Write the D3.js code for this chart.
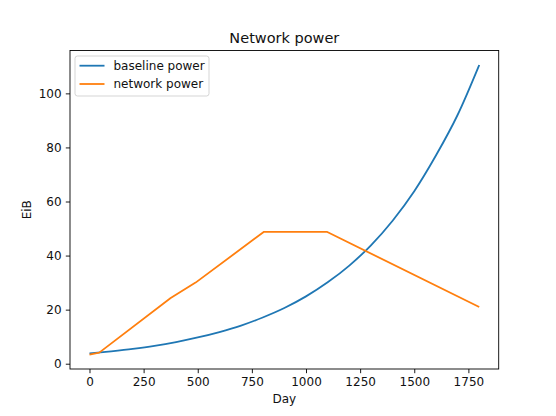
<!DOCTYPE html>
<html>
<head>
<meta charset="utf-8">
<script src="https://cdn.jsdelivr.net/npm/d3@7"></script>
<style>
body { margin: 0; background: #fff; }
text { font-family: "DejaVu Sans", sans-serif; }
</style>
</head>
<body>
<div id="viz"></div>
<script>
// baseline power, read every 100 days
var baseDays = [0, 100, 200, 300, 400, 500, 600, 700, 800, 900, 1000, 1100, 1200, 1300, 1400, 1500, 1600, 1700, 1800];
var baseValues = [3.8, 4.6, 5.5, 6.6, 8.0, 9.7, 11.7, 14.1, 17.1, 20.6, 24.9, 30.1, 36.3, 43.8, 52.9, 63.8, 77.0, 92.0, 110.5];

// network power, the corners of the line
var netDays = [0, 45, 375, 490, 806, 1096, 1800];
var netValues = [3.4, 4.1, 24.3, 30.0, 48.8, 48.8, 21.0];

var xTicks = [0, 250, 500, 750, 1000, 1250, 1500, 1750];
var yTicks = [0, 20, 40, 60, 80, 100];
var seriesNames = ['baseline power', 'network power'];
var colors = ['#1f77b4', '#ff7f0e'];

var width = 556, height = 416;
// plot area (window.top is reserved, so pl/pr/pt/pb)
var pl = 70, pr = 498.7, pt = 50.5, pb = 369;

var svg = d3
.select('#viz')
.append('svg')
.attr('width', width)
.attr('height', height)
;

var base = baseDays.map(function(d, i){ return {day: d, value: baseValues[i]}; });
var net = netDays.map(function(d, i){ return {day: d, value: netValues[i]}; });

// matplotlib style 5% margins
var xmin = 0, xmax = 1800;
var ymin = d3.min(baseValues.concat(netValues)), ymax = d3.max(baseValues.concat(netValues));
var xpad = (xmax - xmin) * 0.05, ypad = (ymax - ymin) * 0.05;

var x = d3.scaleLinear().domain([xmin - xpad, xmax + xpad]).range([pl, pr]);
var y = d3.scaleLinear().domain([ymin - ypad, ymax + ypad]).range([pb, pt]);

var line = d3.line()
.x(function(d){ return x(d.day); })
.y(function(d){ return y(d.value); })
;

svg
.append('path')
.datum(base)
.attr('fill', 'none')
.attr('stroke', colors[0])
.attr('stroke-width', 1.8)
.attr('d', line.curve(d3.curveMonotoneX))
;

svg
.append('path')
.datum(net)
.attr('fill', 'none')
.attr('stroke', colors[1])
.attr('stroke-width', 1.8)
.attr('stroke-linejoin', 'round')
.attr('d', line.curve(d3.curveLinear))
;

// axes
var xAxis = svg
.append('g')
.attr('transform', 'translate(0,' + pb + ')')
.call(d3.axisBottom(x).tickValues(xTicks).tickFormat(d3.format('d')).tickSize(4.2).tickPadding(4.2).tickSizeOuter(0))
;

var yAxis = svg
.append('g')
.attr('transform', 'translate(' + pl + ',0)')
.call(d3.axisLeft(y).tickValues(yTicks).tickFormat(d3.format('d')).tickSize(4.2).tickPadding(4.2).tickSizeOuter(0))
;

[xAxis, yAxis].forEach(function(a){
  a.select('.domain').remove();
  a.selectAll('text').attr('font-size', '12px').attr('font-family', '"DejaVu Sans", sans-serif').attr('fill', '#111');
  a.selectAll('line').attr('stroke', '#000').attr('stroke-width', 0.9);
});

// frame
svg
.append('rect')
.attr('x', pl)
.attr('y', pt)
.attr('width', pr - pl)
.attr('height', pb - pt)
.attr('fill', 'none')
.attr('stroke', '#000')
.attr('stroke-width', 0.9)
;

svg
.append('text')
.text('Network power')
.attr('x', (pl + pr) / 2)
.attr('y', 43)
.attr('text-anchor', 'middle')
.attr('font-size', '14.5px')
.attr('fill', '#111')
;

svg
.append('text')
.text('Day')
.attr('x', (pl + pr) / 2)
.attr('y', 403)
.attr('text-anchor', 'middle')
.attr('font-size', '12px')
.attr('fill', '#111')
;

svg
.append('text')
.text('EiB')
.attr('transform', 'translate(31,' + (pt + pb) / 2 + ') rotate(-90)')
.attr('text-anchor', 'middle')
.attr('font-size', '12px')
.attr('fill', '#111')
;

// legend
var legend = svg.append('g');

legend
.append('rect')
.attr('x', 75)
.attr('y', 56)
.attr('width', 134)
.attr('height', 40)
.attr('rx', 2.5)
.attr('fill', '#fff')
.attr('fill-opacity', 0.8)
.attr('stroke', '#d0d0d0')
.attr('stroke-width', 0.9)
;

seriesNames.forEach(function(name, i){
  var ly = 65.7 + i * 18.3;
  legend
  .append('line')
  .attr('x1', 79.5)
  .attr('x2', 104.5)
  .attr('y1', ly)
  .attr('y2', ly)
  .attr('stroke', colors[i])
  .attr('stroke-width', 1.8)
  ;
  legend
  .append('text')
  .text(name)
  .attr('x', 113.5)
  .attr('y', ly + 4.3)
  .attr('font-size', '12px')
  .attr('fill', '#111')
  ;
});
</script>
</body>
</html>
